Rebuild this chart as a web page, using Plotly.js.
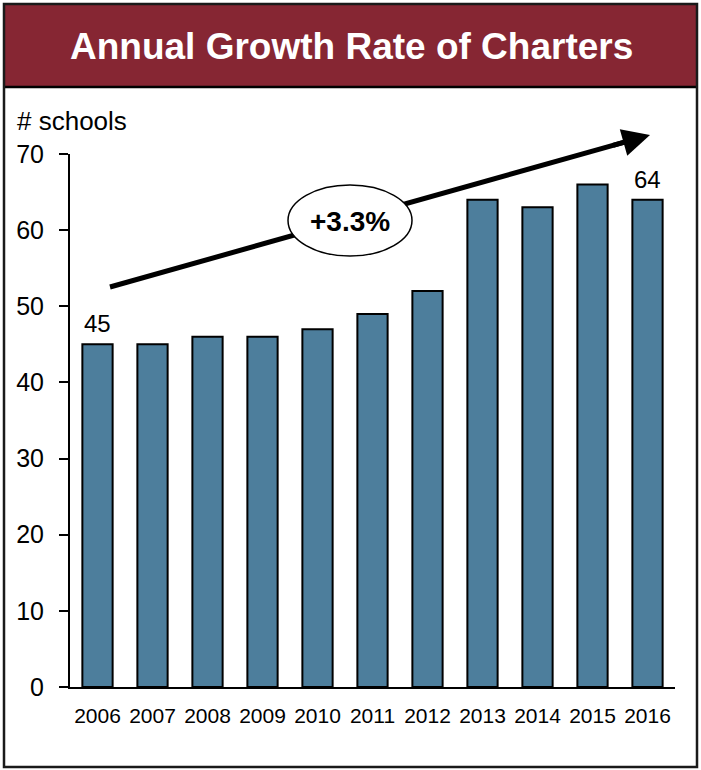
<!DOCTYPE html>
<html>
<head>
<meta charset="utf-8">
<script src="https://cdn.plot.ly/plotly-3.0.1.min.js"></script>
<style>html,body{margin:0;padding:0;background:#fff;}#chart{width:701px;height:770px;}</style>
</head>
<body>
<div id="chart"></div>
<script>
const years = ["2006","2007","2008","2009","2010","2011","2012","2013","2014","2015","2016"];
const schools = [45, 45, 46, 46, 47, 49, 52, 64, 63, 66, 64];
const labeledIdx = [0, 10];
const growthLabel = "+3.3%";
const chartTitle = "Annual Growth Rate of Charters";
const yTitle = "# schools";

const W = 701, H = 770;
const M = {l: 70, r: 26, t: 154, b: 83};
const PW = W - M.l - M.r, PH = H - M.t - M.b;
const px = v => (v - M.l) / PW;
const py = v => (H - M.b - v) / PH;
const FONT = "Liberation Sans, Arial, sans-serif";

const trace = {
  type: "bar",
  x: years,
  y: schools,
  marker: {color: "#4D7E9C", line: {color: "#000", width: 2}},
  width: 0.55,
  hoverinfo: "skip"
};

const annotations = labeledIdx.map(i => ({
  x: i, y: schools[i], xref: "x", yref: "y",
  text: String(schools[i]), showarrow: false,
  yanchor: "bottom", yshift: 5,
  font: {family: FONT, size: 24, color: "#000"}
}));

// title
annotations.push({
  xref: "paper", yref: "paper", x: px(351), y: py(47),
  xanchor: "center", yanchor: "middle", showarrow: false,
  text: "<b>" + chartTitle + "</b>",
  font: {family: FONT, size: 37, color: "#fff"}
});
// y title
annotations.push({
  xref: "paper", yref: "paper", x: px(15), y: py(121),
  xanchor: "left", yanchor: "middle", showarrow: false,
  text: yTitle,
  font: {family: FONT, size: 26, color: "#000"}
});
// arrow
const tail = [110, 287], tip = [650, 135];
const dx = tail[0] - tip[0], dy = tail[1] - tip[1];
const dl = Math.hypot(dx, dy);
annotations.push({
  xref: "paper", yref: "paper", x: px(tip[0]), y: py(tip[1]),
  ax: dx / dl * 40, ay: dy / dl * 40,
  showarrow: true, arrowhead: 2, arrowsize: 1.1, arrowwidth: 5,
  arrowcolor: "#000", text: "", standoff: 0
});
// growth label
annotations.push({
  xref: "paper", yref: "paper", x: px(350), y: py(221),
  xanchor: "center", yanchor: "middle", showarrow: false,
  text: "<b>" + growthLabel + "</b>",
  font: {family: FONT, size: 28, color: "#000"}
});

const shapes = [
  {type: "rect", xref: "paper", yref: "paper", layer: "below",
   x0: px(4), x1: px(697), y0: py(4), y1: py(87),
   fillcolor: "#862633", line: {width: 0}},
  {type: "line", xref: "paper", yref: "paper", layer: "above",
   x0: px(4), x1: px(697), y0: py(87), y1: py(87),
   line: {color: "#000", width: 2.5}},
  {type: "rect", xref: "paper", yref: "paper", layer: "above",
   x0: px(4), x1: px(697), y0: py(4), y1: py(767),
   line: {color: "#1a1a1a", width: 2.5}},
  {type: "line", xref: "paper", yref: "paper", layer: "above",
   x0: px(tail[0]), y0: py(tail[1]),
   x1: px(tip[0] + dx / dl * 20), y1: py(tip[1] + dy / dl * 20),
   line: {color: "#000", width: 5}},
  {type: "circle", xref: "paper", yref: "paper", layer: "above",
   x0: px(288), x1: px(412), y0: py(185), y1: py(256),
   fillcolor: "#fff", line: {color: "#000", width: 1.5}}
];

const layout = {
  width: W, height: H,
  margin: M,
  paper_bgcolor: "#fff", plot_bgcolor: "#fff",
  showlegend: false,
  font: {family: FONT, color: "#000"},
  xaxis: {
    type: "category", range: [-0.5, 10.5], fixedrange: true,
    showline: true, linecolor: "#000", linewidth: 2,
    ticks: "", showgrid: false, zeroline: false,
    tickfont: {family: FONT, size: 21, color: "#000"},
    ticklabelstandoff: 9
  },
  yaxis: {
    range: [0, 70], dtick: 10, fixedrange: true,
    showline: true, linecolor: "#000", linewidth: 2,
    ticks: "outside", ticklen: 9, tickwidth: 2, tickcolor: "#000",
    showgrid: false, zeroline: false,
    tickfont: {family: FONT, size: 25, color: "#000"},
    ticklabelstandoff: 10
  },
  annotations: annotations,
  shapes: shapes
};

Plotly.newPlot("chart", [trace], layout, {staticPlot: true, displayModeBar: false});
</script>
</body>
</html>
